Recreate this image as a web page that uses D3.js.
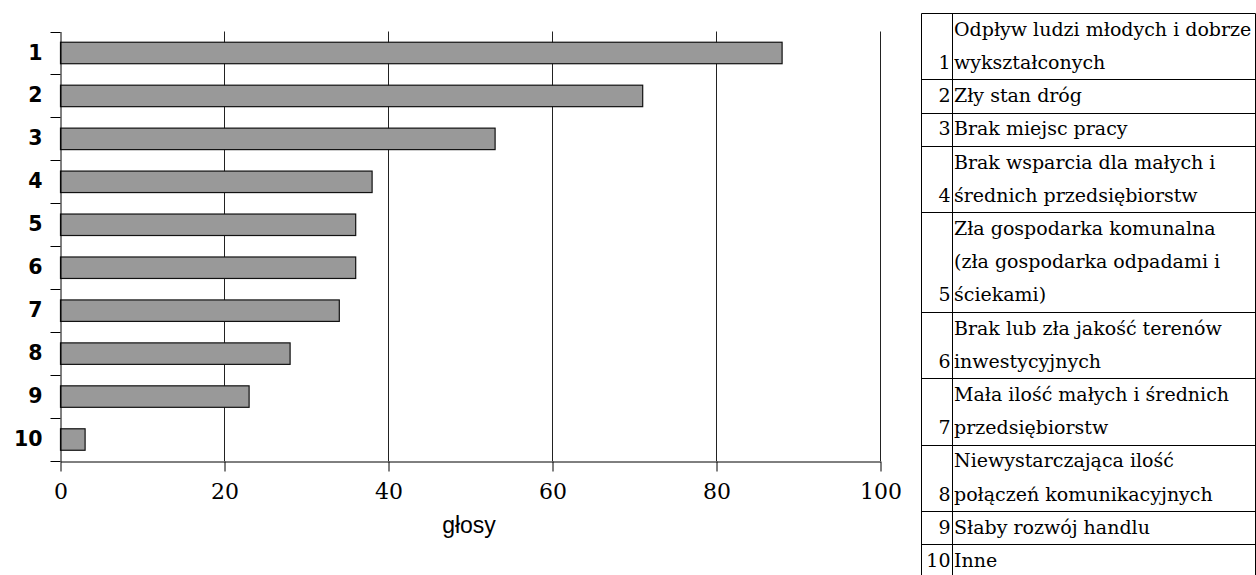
<!DOCTYPE html>
<html>
<head>
<meta charset="utf-8">
<script src="https://cdn.jsdelivr.net/npm/d3@7"></script>
<style>
  html, body { margin: 0; padding: 0; background: #fff; }
  svg { display: block; }
</style>
</head>
<body>
<svg id="chart" width="1256" height="575"></svg>
<script>
// ---- data ----
const categories = ["1", "2", "3", "4", "5", "6", "7", "8", "9", "10"];
const votes = [88, 71, 53, 38, 36, 36, 34, 28, 23, 3];
const xTicks = [0, 20, 40, 60, 80, 100];
const axisTitle = "głosy";
const legendNumbers = ["1", "2", "3", "4", "5", "6", "7", "8", "9", "10"];
const legendLines = [
  ["Odpływ ludzi młodych i dobrze", "wykształconych"],
  ["Zły stan dróg"],
  ["Brak miejsc pracy"],
  ["Brak wsparcia dla małych i", "średnich przedsiębiorstw"],
  ["Zła gospodarka komunalna", "(zła gospodarka odpadami i", "ściekami)"],
  ["Brak lub zła jakość terenów", "inwestycyjnych"],
  ["Mała ilość małych i średnich", "przedsiębiorstw"],
  ["Niewystarczająca ilość", "połączeń komunikacyjnych"],
  ["Słaby rozwój handlu"],
  ["Inne"]
];

// ---- chart ----
const svg = d3.select("#chart");
const x = d3.scaleLinear().domain([0, 100]).range([60, 880]);
const y = d3.scaleBand().domain(categories).range([31.5, 461])
  .paddingInner(0.5).paddingOuter(0.25);

// gridlines
svg.append("g")
  .selectAll("line")
  .data(xTicks.filter(d => d > 0))
  .join("line")
  .attr("x1", d => Math.round(x(d)) + 0.5)
  .attr("x2", d => Math.round(x(d)) + 0.5)
  .attr("y1", y.range()[0])
  .attr("y2", y.range()[1])
  .attr("stroke", "#222")
  .attr("stroke-width", 1);

// bars
svg.append("g")
  .selectAll("rect")
  .data(categories.map((c, i) => ({ c, v: votes[i] })))
  .join("rect")
  .attr("x", x(0) + 0.5)
  .attr("y", d => y(d.c))
  .attr("width", d => x(d.v) - x(0))
  .attr("height", y.bandwidth())
  .attr("fill", "#999999")
  .attr("stroke", "#111")
  .attr("stroke-width", 1.2);

// x axis
const xAxis = svg.append("g")
  .attr("transform", `translate(0.5,${Math.round(y.range()[1]) + 0.5})`)
  .call(d3.axisBottom(x).tickValues(xTicks).tickSize(10).tickPadding(12).tickSizeOuter(0));
xAxis.select(".domain").attr("stroke", "#000");
xAxis.selectAll(".tick line").attr("stroke", "#000");
xAxis.selectAll(".tick text")
  .attr("font-family", "'DejaVu Serif', serif")
  .attr("font-size", 22)
  .attr("fill", "#000");

// y axis (labels at band centres, ticks at band boundaries)
const yAxis = svg.append("g")
  .attr("transform", `translate(${x(0) + 0.5},0)`)
  .call(d3.axisLeft(y).tickSize(0).tickPadding(18).tickSizeOuter(0));
yAxis.select(".domain").attr("stroke", "#000");
yAxis.selectAll(".tick text")
  .attr("font-family", "'DejaVu Sans', Verdana, sans-serif")
  .attr("font-weight", "bold")
  .attr("font-size", 20.5)
  .attr("fill", "#000");
const step = y.step();
const boundaries = d3.range(categories.length + 1).map(i => y.range()[0] + i * step);
yAxis.append("g")
  .selectAll("line")
  .data(boundaries)
  .join("line")
  .attr("x1", -10).attr("x2", 0)
  .attr("y1", d => Math.round(d) + 0.5)
  .attr("y2", d => Math.round(d) + 0.5)
  .attr("stroke", "#000");

// axis title
svg.append("text")
  .attr("x", (x(0) + x(100)) / 2 - 1)
  .attr("y", 533)
  .attr("text-anchor", "middle")
  .attr("font-family", "'Liberation Sans', Arial, sans-serif")
  .attr("font-size", 23)
  .attr("fill", "#000")
  .text(axisTitle);

// ---- legend table ----
const tLeft = 921.5, tDiv = 952.5, tRight = 1255.5, tTop = 13.5;
const lineH = 33.2;
let cum = 0;
const rows = legendLines.map((lines, i) => {
  const top = tTop + cum * lineH;
  cum += lines.length;
  return { num: legendNumbers[i], lines, top, bottom: tTop + cum * lineH };
});
const tBottom = rows[rows.length - 1].bottom;
const tg = svg.append("g");

tg.selectAll("line.h")
  .data([tTop, ...rows.map(r => r.bottom)])
  .join("line")
  .attr("class", "h")
  .attr("x1", tLeft).attr("x2", tRight)
  .attr("y1", d => Math.round(d - 0.5) + 0.5)
  .attr("y2", d => Math.round(d - 0.5) + 0.5)
  .attr("stroke", "#000");
tg.selectAll("line.v")
  .data([tLeft, tDiv, tRight])
  .join("line")
  .attr("class", "v")
  .attr("x1", d => d).attr("x2", d => d)
  .attr("y1", tTop).attr("y2", tBottom)
  .attr("stroke", "#000");

const row = tg.selectAll("g.row").data(rows).join("g").attr("class", "row");
row.append("text")
  .attr("x", tDiv - 2)
  .attr("y", r => r.bottom - 11)
  .attr("text-anchor", "end")
  .attr("font-family", "'DejaVu Serif', serif")
  .attr("font-size", 19)
  .attr("fill", "#000")
  .text(r => r.num);
row.selectAll("text.l")
  .data(r => r.lines.map((t, k) => ({ t, yb: r.top + (k + 1) * lineH - 11 })))
  .join("text")
  .attr("class", "l")
  .attr("x", tDiv + 1.5)
  .attr("y", d => d.yb)
  .attr("font-family", "'DejaVu Serif', serif")
  .attr("font-size", 19)
  .attr("fill", "#000")
  .text(d => d.t);
</script>
</body>
</html>
